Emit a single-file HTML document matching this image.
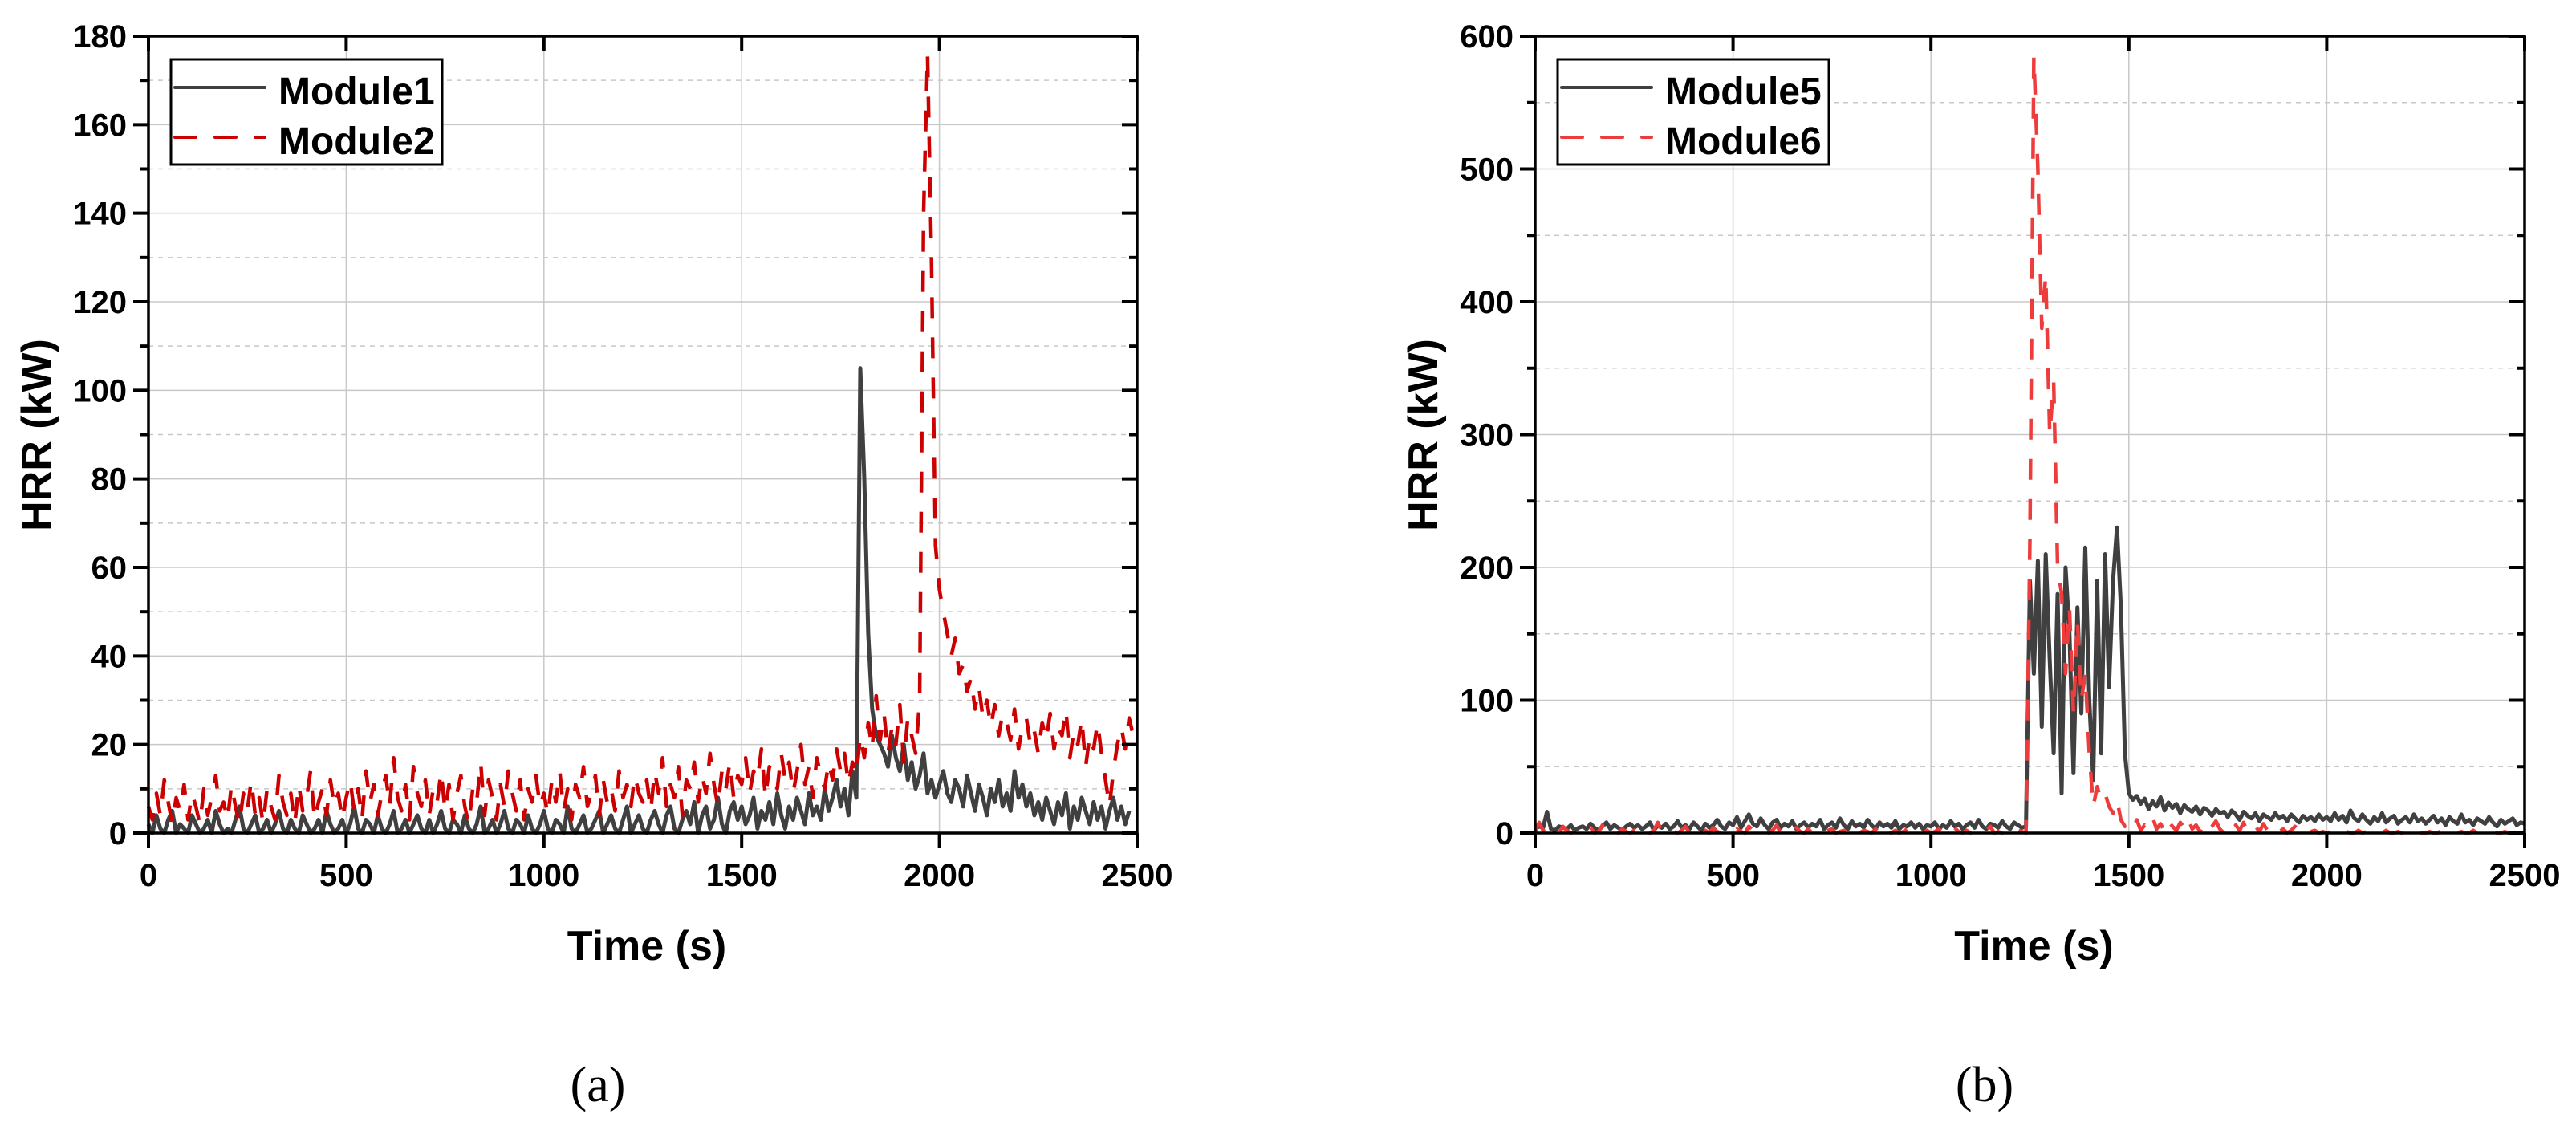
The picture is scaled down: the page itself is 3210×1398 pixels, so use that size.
<!DOCTYPE html>
<html><head><meta charset="utf-8"><style>
html,body{margin:0;padding:0;background:#fff;}
svg{display:block;}
text{font-family:"Liberation Sans",Arial,sans-serif;font-weight:bold;fill:#000;}
</style></head><body>
<svg id="fig" width="3210" height="1398" viewBox="0 0 3210 1398" xmlns="http://www.w3.org/2000/svg"></svg>
<script>
// ---- data (time step 10 s, t = 0..2500) ----
const timeStep = 10;
const xTicksA = [0, 500, 1000, 1500, 2000, 2500];
const yTicksA = [0, 20, 40, 60, 80, 100, 120, 140, 160, 180];
const xTicksB = [0, 500, 1000, 1500, 2000, 2500];
const yTicksB = [0, 100, 200, 300, 400, 500, 600];
const seriesNamesA = ["Module1", "Module2"];
const seriesNamesB = ["Module5", "Module6"];
const module1 = [
2,0,4,1,0,3,5,0,2,1,0,4,2,0,1,3,0,5,2,0,1,0,3,6,1,
0,2,4,0,1,3,0,2,5,1,0,3,1,0,4,2,0,1,3,0,5,2,0,1,3,
0,2,6,1,0,3,2,0,4,1,0,2,5,0,1,3,0,2,4,1,0,3,0,2,5,
1,0,3,2,0,4,1,0,2,6,0,1,3,0,2,5,1,0,3,2,0,4,1,0,2,
5,1,0,3,2,0,6,1,0,2,4,0,1,3,5,0,2,4,1,0,3,6,0,2,4,
1,0,3,5,2,0,4,6,1,0,3,5,2,7,0,4,6,1,3,8,2,0,5,7,3,
6,2,4,8,1,5,3,7,2,9,4,1,6,3,8,5,2,9,4,6,3,10,5,8,12,
6,10,4,14,8,105,80,45,28,22,20,18,15,22,17,14,20,12,16,10,13,18,9,12,8,
11,14,9,7,12,10,6,13,9,5,11,8,4,10,7,12,6,9,5,14,8,11,6,9,4,
7,3,8,5,2,7,4,9,1,6,3,8,5,2,7,3,6,1,5,8,3,6,2,5,null,
null];
const module2 = [
6,3,9,4,12,7,2,8,5,11,3,9,6,2,10,4,8,13,5,7,3,11,6,2,9,
5,12,4,8,2,10,6,3,13,7,4,9,2,11,5,8,14,3,7,10,4,12,6,9,3,
8,12,5,10,3,14,7,11,4,9,13,6,17,8,5,11,3,15,9,6,12,4,10,7,14,
5,11,3,9,13,6,2,10,7,16,4,12,8,3,11,6,14,9,5,12,3,10,7,13,6,
9,4,12,7,14,5,10,3,11,8,15,6,9,13,4,12,7,10,5,14,8,11,6,13,9,
7,12,5,14,9,17,6,11,8,15,4,12,10,16,7,13,9,18,11,6,14,10,16,8,13,
11,17,9,14,12,19,8,15,13,10,18,12,16,9,14,20,11,15,8,17,13,10,16,12,19,
14,18,11,16,13,22,17,25,19,31,21,27,18,24,20,29,16,26,22,18,30,140,176,130,65,
55,50,45,40,44,36,38,32,35,28,33,26,30,24,29,22,27,25,21,28,19,24,26,20,23,
18,25,21,27,19,24,22,28,17,23,20,26,15,22,19,25,18,12,6,14,20,24,19,26,22,
25];
const module5 = [
3,5,4,16,3,2,5,4,3,6,2,4,5,3,7,4,2,5,8,3,6,4,2,5,7,
4,6,3,5,8,2,6,4,7,3,5,9,4,6,3,8,5,2,7,4,6,10,5,3,8,
6,12,4,9,14,7,5,11,6,3,8,10,4,7,5,9,3,6,8,4,7,5,10,3,6,
8,4,11,6,3,9,5,7,4,10,6,3,8,5,7,4,9,3,6,5,8,4,7,3,6,
5,8,3,6,4,9,5,7,3,6,8,4,10,5,3,7,6,4,9,5,3,8,6,4,5,
190,120,205,80,210,130,60,180,30,200,150,45,170,90,215,100,40,190,60,210,110,190,230,170,60,
30,25,28,22,26,18,24,20,27,17,23,19,22,15,21,18,16,20,14,19,17,13,18,15,16,
12,17,14,10,16,13,11,15,9,14,12,10,15,11,13,9,14,11,8,13,10,12,9,14,10,
12,9,15,10,13,8,17,11,9,14,10,7,12,9,15,8,11,13,7,10,12,8,14,9,11,
7,10,13,8,11,6,12,9,7,14,8,10,6,11,9,7,12,8,5,10,7,9,11,6,8,
7];
const module6 = [
1,8,2,0,3,1,0,5,2,0,1,3,0,2,4,0,1,6,0,2,1,0,3,1,0,
2,0,1,4,0,2,8,1,0,3,1,0,2,5,0,1,3,0,2,0,4,1,0,2,1,
0,3,1,0,5,2,0,1,3,0,2,6,0,1,2,0,4,1,0,3,0,2,1,0,2,
3,0,1,2,0,4,1,0,2,1,0,3,0,5,1,0,2,0,1,3,0,2,1,0,2,
0,1,3,0,2,0,4,1,0,2,0,3,1,0,2,5,0,1,0,3,1,0,2,1,0,
220,585,500,380,420,300,340,200,180,120,170,90,160,100,120,60,20,35,25,30,20,15,25,10,5,
8,3,10,2,6,4,12,3,7,1,9,5,2,8,4,11,3,6,1,7,2,5,9,3,0,
4,1,6,2,8,0,3,5,1,7,2,0,4,1,3,0,2,5,1,0,3,1,2,0,1,
0,1,0,2,0,1,0,0,2,0,1,0,0,1,0,2,0,0,1,0,0,2,0,1,0,
0,1,0,0,2,0,1,0,0,1,0,0,2,0,1,0,0,1,0,0,1,0,0,1,0,
0];

const NS = "http://www.w3.org/2000/svg";
const svg = document.getElementById("fig");
function mk(tag, attrs, parent) {
  const e = document.createElementNS(NS, tag);
  for (const k in attrs) e.setAttribute(k, attrs[k]);
  (parent || svg).appendChild(e);
  return e;
}

function drawChart(o) {
  const g = mk("g", {});
  
  
  const L = o.left, R = o.right, T = 45, B = 1038;
  const xs = v => L + (v - o.xMin) / (o.xMax - o.xMin) * (R - L);
  const ys = v => B - (v - o.yMin) / (o.yMax - o.yMin) * (B - T);

  const grid = mk("g", {}, g);
  
  
  for (let i = 0; i < o.yTicks.length - 1; i++) {
    const mid = (o.yTicks[i] + o.yTicks[i + 1]) / 2;
    const mn = mk("line", {x1: L, x2: R, y1: ys(mid), y2: ys(mid), stroke: "#c8c8c8", "stroke-width": 1.5, "stroke-dasharray": "6,6"}, grid);
    
    
    if (i > 0) {
      const mj = mk("line", {x1: L, x2: R, y1: ys(o.yTicks[i]), y2: ys(o.yTicks[i]), stroke: "#c8c8c8", "stroke-width": 1.5}, grid);
      
      
    }
  }
  for (let i = 1; i < o.xTicks.length - 1; i++) {
    const v = mk("line", {x1: xs(o.xTicks[i]), x2: xs(o.xTicks[i]), y1: T, y2: B, stroke: "#c8c8c8", "stroke-width": 1.5}, grid);
    
    
  }

  o.series.forEach((s, si) => {
    let d = "", pen = false;
    s.values.forEach((v, i) => {
      if (v === null) { pen = false; return; }
      d += (pen ? "L" : "M") + xs(i * timeStep).toFixed(1) + "," + ys(v).toFixed(1);
      pen = true;
    });
    const p = mk("path", {d: d, fill: "none", stroke: s.color, "stroke-width": s.w, "stroke-linejoin": "round", "stroke-dasharray": s.dash || "none"}, g);
    
    
  });

  const frame = mk("rect", {x: L, y: T, width: R - L, height: B - T, fill: "none", stroke: "#000", "stroke-width": 3.5}, g);
  
  

  const yAx = mk("g", {}, g);
  
  
  o.yTicks.forEach((v, i) => {
    const y = ys(v);
    mk("line", {x1: L - 19, x2: L, y1: y, y2: y, stroke: "#000", "stroke-width": 4}, yAx);
    mk("line", {x1: R - 19, x2: R, y1: y, y2: y, stroke: "#000", "stroke-width": 4}, yAx);
    const t = mk("text", {x: L - 27, y: y + 14, "font-size": 40, "text-anchor": "end"}, yAx);
    t.textContent = v;
    
    
    if (i < o.yTicks.length - 1) {
      const m = ys((v + o.yTicks[i + 1]) / 2);
      mk("line", {x1: L - 10, x2: L, y1: m, y2: m, stroke: "#000", "stroke-width": 4}, yAx);
      mk("line", {x1: R - 10, x2: R, y1: m, y2: m, stroke: "#000", "stroke-width": 4}, yAx);
    }
  });
  const xAx = mk("g", {}, g);
  
  
  o.xTicks.forEach(v => {
    const x = xs(v);
    mk("line", {x1: x, x2: x, y1: B, y2: B + 19, stroke: "#000", "stroke-width": 4}, xAx);
    mk("line", {x1: x, x2: x, y1: T, y2: T + 19, stroke: "#000", "stroke-width": 4}, xAx);
    const t = mk("text", {x: x, y: 1104, "font-size": 40, "text-anchor": "middle"}, xAx);
    t.textContent = v;
    
    
  });

  const xt = mk("text", {x: (L + R) / 2 + 5, y: 1196, "font-size": 52, "text-anchor": "middle"}, g);
  xt.textContent = "Time (s)";
  
  
  const yt = mk("text", {x: 0, y: 0, "font-size": 52, "text-anchor": "middle", transform: "translate(" + (L - 122) + ",542) rotate(-90)"}, g);
  yt.textContent = "HRR (kW)";
  
  

  const lg = mk("g", {}, g);
  
  
  mk("rect", {x: L + 28, y: 74, width: o.legendW, height: 131, fill: "#fff", stroke: "#000", "stroke-width": 3}, lg);
  o.series.forEach((s, i) => {
    const y = 109 + i * 62;
    const ln = mk("line", {x1: L + 33, x2: L + 145, y1: y, y2: y, stroke: s.color, "stroke-width": 4, "stroke-dasharray": s.dash || "none", "stroke-linecap": "round"}, lg);
    
    
    const t = mk("text", {x: L + 162, y: y + 21, "font-size": 48}, lg);
    t.textContent = s.name;
    
    
  });

  const cap = mk("text", {x: o.capX, y: 1372, "font-size": 62, "text-anchor": "middle", style: "font-family:'Liberation Serif',serif;font-weight:normal"}, g);
  cap.textContent = o.caption;
  
  
}

drawChart({id: "chart-a", left: 185, right: 1417, xMin: 0, xMax: 2500, yMin: 0, yMax: 180,
  xTicks: xTicksA, yTicks: yTicksA, legendW: 338, capX: 745, caption: "(a)",
  series: [
    {name: seriesNamesA[0], values: module1, color: "#404040", w: 5},
    {name: seriesNamesA[1], values: module2, color: "#cc0000", dash: "26,24", w: 4.5}
  ]});
drawChart({id: "chart-b", left: 1913, right: 3146, xMin: 0, xMax: 2500, yMin: 0, yMax: 600,
  xTicks: xTicksB, yTicks: yTicksB, legendW: 338, capX: 2473, caption: "(b)",
  series: [
    {name: seriesNamesB[0], values: module5, color: "#404040", w: 5},
    {name: seriesNamesB[1], values: module6, color: "#ee3b3b", dash: "26,24", w: 4.5}
  ]});
</script>
</body></html>
